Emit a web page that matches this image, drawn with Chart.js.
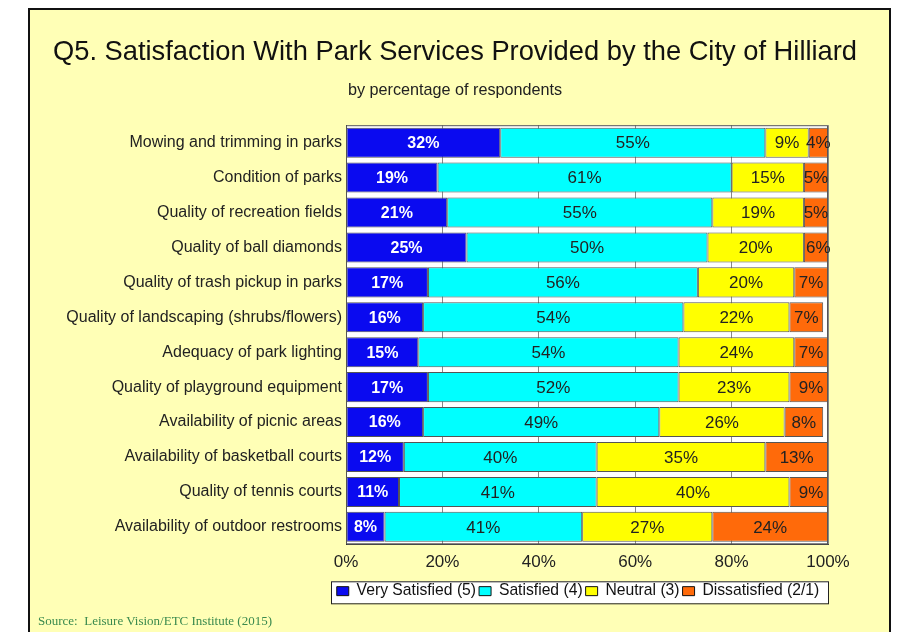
<!DOCTYPE html>
<html>
<head>
<meta charset="utf-8">
<script src="https://cdn.jsdelivr.net/npm/chart.js@4.4.1/dist/chart.umd.min.js"></script>
<style>
  body { margin: 0; background: #fff; }
  #frame { position: absolute; left: 28px; top: 8px; width: 859px; height: 640px; background: #ffffb6; border: 2px solid #111; border-bottom: none; }
  #wrap { position: absolute; left: 0; top: 0; width: 898px; height: 632px; }
  #source { position: absolute; left: 38px; top: 613px; font: 13px "Liberation Serif", "Times New Roman", serif; color: #3a8a4e; white-space: pre; }
</style>
</head>
<body>
<div id="frame"></div>
<div id="wrap"><canvas id="grafico" width="898" height="632"></canvas></div>
<div id="source">Source:  Leisure Vision/ETC Institute (2015)</div>
<script>
const categorias = [
  'Mowing and trimming in parks',
  'Condition of parks',
  'Quality of recreation fields',
  'Quality of ball diamonds',
  'Quality of trash pickup in parks',
  'Quality of landscaping (shrubs/flowers)',
  'Adequacy of park lighting',
  'Quality of playground equipment',
  'Availability of picnic areas',
  'Availability of basketball courts',
  'Quality of tennis courts',
  'Availability of outdoor restrooms'
];
const muySatisfecho = [32, 19, 21, 25, 17, 16, 15, 17, 16, 12, 11, 8];
const satisfecho    = [55, 61, 55, 50, 56, 54, 54, 52, 49, 40, 41, 41];
const neutral       = [9, 15, 19, 20, 20, 22, 24, 23, 26, 35, 40, 27];
const insatisfecho  = [4, 5, 5, 6, 7, 7, 7, 9, 8, 13, 9, 24];
const nombresSeries = ['Very Satisfied (5)', 'Satisfied (4)', 'Neutral (3)', 'Dissatisfied (2/1)'];
const ticksX = [0, 20, 40, 60, 80, 100];

Chart.defaults.font.family = "'Liberation Sans', Arial, sans-serif";

// fondo blanco del area y caja de la leyenda
const fondoPlugin = {
  id: 'fondo',
  afterLayout(chart) {
    const a = chart.chartArea;
    const lg = chart.legend;
    lg.left = a.left - 36;
    lg.right = a.right + 18;
    lg.width = lg.right - lg.left;
  },
  beforeDraw(chart) {
    const ctx = chart.ctx, a = chart.chartArea, lg = chart.legend;
    const bx = a.left - 15, bw = a.right + 1 - bx;
    ctx.save();
    ctx.fillStyle = '#ffffff';
    ctx.fillRect(a.left, a.top, a.right - a.left, a.bottom - a.top);
    ctx.fillRect(bx, lg.top + 1, bw, 22);
    ctx.strokeStyle = '#222';
    ctx.lineWidth = 1;
    ctx.strokeRect(bx + 0.5, lg.top + 1.5, bw - 1, 22);
    ctx.restore();
  },
  afterDatasetsDraw(chart) {
    const ctx = chart.ctx, a = chart.chartArea;
    ctx.save();
    ctx.strokeStyle = '#555';
    ctx.lineWidth = 1;
    ctx.strokeRect(a.left + 0.5, a.top + 0.5, a.right - a.left - 1, a.bottom - a.top - 1);
    ctx.restore();
  }
};

// porcentajes dentro de cada barra
const etiquetasPlugin = {
  id: 'etiquetas',
  afterDatasetsDraw(chart) {
    const ctx = chart.ctx;
    ctx.save();
    ctx.textAlign = 'center';
    ctx.textBaseline = 'middle';
    chart.data.datasets.forEach((ds, i) => {
      const meta = chart.getDatasetMeta(i);
      if (i === 0) {
        ctx.font = "bold 16px 'Liberation Sans', Arial, sans-serif";
        ctx.fillStyle = '#ffffff';
      } else {
        ctx.font = "17px 'Liberation Sans', Arial, sans-serif";
        ctx.fillStyle = '#222';
      }
      meta.data.forEach((bar, j) => {
        const x = (bar.x + bar.base) / 2;
        ctx.fillText(ds.data[j] + '%', x, bar.y + 1);
      });
    });
    ctx.restore();
  }
};

const colores = ['#0a0af0', '#00ffff', '#ffff00', '#ff6a0a'];
const valores = [muySatisfecho, satisfecho, neutral, insatisfecho];

const datasets = nombresSeries.map((n, i) => ({
  label: n,
  data: valores[i],
  backgroundColor: colores[i],
  borderColor: '#555',
  borderWidth: 1,
  borderSkipped: false,
  barPercentage: 0.86,
  categoryPercentage: 1
}));

let grafico = document.getElementById('grafico').getContext('2d');

new Chart(grafico, {
  type: 'bar',
  data: { labels: categorias, datasets: datasets },
  plugins: [fondoPlugin, etiquetasPlugin],
  options: {
    indexAxis: 'y',
    responsive: false,
    animation: false,
    layout: { padding: { left: 12, right: 0, top: 0, bottom: 23 } },
    plugins: {
      title: {
        display: true,
        text: 'Q5. Satisfaction With Park Services Provided by the City of Hilliard',
        font: { size: 27.3, weight: 'normal' },
        color: '#111',
        padding: { top: 36, bottom: 5 }
      },
      subtitle: {
        display: true,
        text: 'by percentage of respondents',
        font: { size: 16.2 },
        color: '#222',
        padding: { top: 7, bottom: 25 }
      },
      legend: {
        position: 'bottom',
        labels: {
          boxWidth: 12,
          boxHeight: 9,
          padding: 3,
          color: '#111',
          font: { size: 15.7 },
          generateLabels(chart) {
            return Chart.defaults.plugins.legend.labels.generateLabels(chart)
              .map(it => Object.assign(it, { strokeStyle: '#111', lineWidth: 1 }));
          }
        }
      },
      tooltip: { enabled: false }
    },
    scales: {
      x: {
        stacked: true,
        min: 0,
        max: 100,
        afterBuildTicks(s) { s.ticks = ticksX.map(v => ({ value: v })); },
        afterFit(s) { s.height = 36; },
        ticks: { callback: v => v + '%', font: { size: 17 }, color: '#222', padding: 8, maxRotation: 0 },
        grid: { color: '#888', drawTicks: false },
        border: { color: '#444' }
      },
      y: {
        stacked: true,
        afterFit(s) { s.width = 334; },
        ticks: { font: { size: 16 }, color: '#222', padding: 4 },
        grid: { display: false, drawTicks: false },
        border: { color: '#222' }
      },
      yDer: {
        type: 'category',
        position: 'right',
        afterFit(s) { s.width = 70; },
        ticks: { display: false },
        grid: { display: false },
        border: { display: false }
      }
    }
  }
});
</script>
</body>
</html>
